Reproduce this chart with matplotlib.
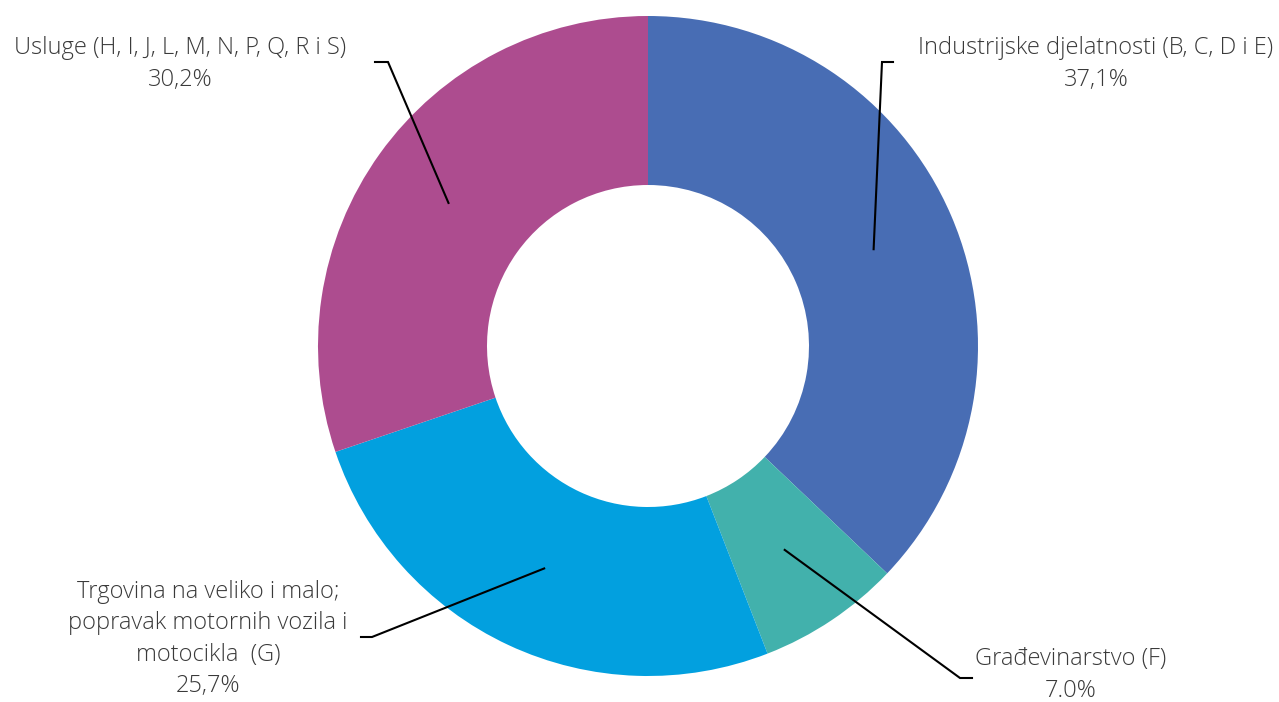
import numpy as np
import matplotlib
matplotlib.use("Agg")
import matplotlib.pyplot as plt

labels = ["Industrijske djelatnosti (B, C, D i E)",
          "Građevinarstvo (F)",
          "Trgovina na veliko i malo;\npopravak motornih vozila i\nmotocikla  (G)",
          "Usluge (H, I, J, L, M, N, P, Q, R i S)"]
pct_text = ["37,1%", "7.0%", "25,7%", "30,2%"]
values = [37.1, 7.0, 25.7, 30.2]
colors = ["#486DB4", "#42B1AC", "#02A0DF", "#AD4C8F"]

# layout in pixel units (y measured from bottom)
W, H = 1279, 702
cx, cy = 648, 356
r_out, r_in = 330, 161
elbows = [((882, 640), (893, 640)),
          ((960, 24), (972, 24)),
          ((372, 65), (361, 65)),
          ((388, 640), (375, 640))]
text_pos = [(1096, 638), (1071, 27), (208, 63), (180, 638)]

plt.rcParams['font.family'] = ['Open Sans', 'DejaVu Sans']

fig = plt.figure(figsize=(12.79, 7.02), dpi=100)
ax = fig.add_axes([0, 0, 1, 1])
wedges, _ = ax.pie(values, colors=colors, startangle=90, counterclock=False,
                   center=(cx, cy), radius=r_out,
                   wedgeprops=dict(width=r_out - r_in, linewidth=0))
ax.set_xlim(0, W)
ax.set_ylim(0, H)
ax.set_aspect('equal')
ax.axis('off')

r_mid = (r_out + r_in) / 2
for i, w in enumerate(wedges):
    ang = np.deg2rad((w.theta1 + w.theta2) / 2)
    x0 = cx + r_mid * np.cos(ang)
    y0 = cy + r_mid * np.sin(ang)
    (x1, y1), (x2, y2) = elbows[i]
    ax.plot([x0, x1, x2], [y0, y1, y2], color='black', lw=1.5,
            solid_joinstyle='miter')
    tx, ty = text_pos[i]
    ax.text(tx, ty, labels[i] + "\n" + pct_text[i], ha='center', va='center',
            fontsize=17, color='#3A3A3A', fontweight='light', linespacing=1.4)

fig.savefig("out.png", dpi=100)
